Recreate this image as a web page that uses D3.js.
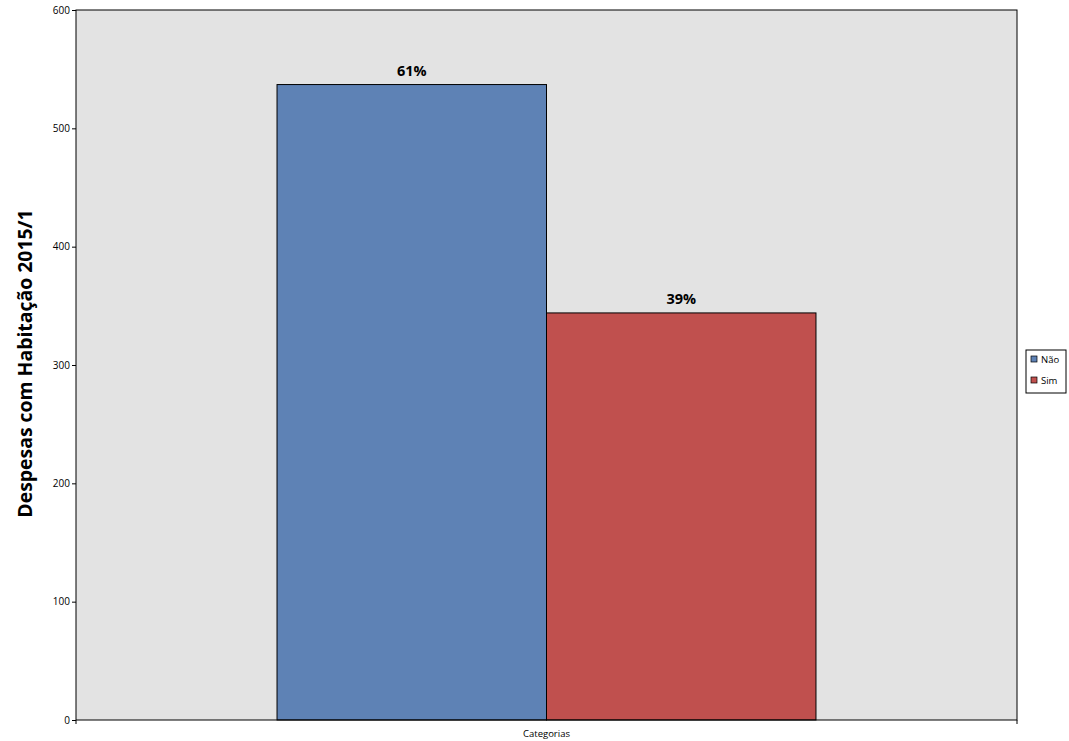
<!DOCTYPE html>
<html><head><meta charset="utf-8">
<script src="https://cdn.jsdelivr.net/npm/d3@7"></script>
<style>body{margin:0;background:#fff}svg{display:block}</style>
</head><body><svg id="c" width="1069" height="741"></svg>
<script>
const categories = ["Categorias"];
const seriesNames = ["Não", "Sim"];
const seriesValues = [537, 344];
const seriesLabels = ["61%", "39%"];
const seriesColors = ["#5e82b5", "#c0504e"];
const yTicks = [0, 100, 200, 300, 400, 500, 600];
const yTitle = "Despesas com Habitação 2015/1";

const svg = d3.select("#c");
const font = "'Open Sans', 'Noto Sans', sans-serif";
const m = {l: 76, t: 10, r: 1017, b: 720};

const y = d3.scaleLinear().domain([0, 600]).range([m.b, m.t]);
const x0 = d3.scaleBand().domain(categories).range([m.l, m.r]).paddingInner(0).paddingOuter(0.373);
const x1 = d3.scaleBand().domain(seriesNames).range([0, x0.bandwidth()]);

svg.append("rect").attr("x", m.l).attr("y", m.t).attr("width", m.r - m.l).attr("height", m.b - m.t)
  .attr("fill", "#e3e3e3");

const g = svg.append("g");
categories.forEach(c => {
  seriesNames.forEach((s, i) => {
    const v = seriesValues[i];
    g.append("rect")
      .attr("x", x0(c) + x1(s)).attr("y", y(v))
      .attr("width", x1.bandwidth()).attr("height", y(0) - y(v))
      .attr("fill", seriesColors[i]).attr("stroke", "#000").attr("stroke-width", 1);
    g.append("text")
      .attr("x", x0(c) + x1(s) + x1.bandwidth() / 2).attr("y", y(v) - 9)
      .attr("text-anchor", "middle").attr("font-family", font).attr("font-weight", "bold")
      .attr("font-size", 14.5).attr("fill", "#000").text(seriesLabels[i]);
  });
});

// frame
svg.append("rect").attr("x", m.l).attr("y", m.t).attr("width", m.r - m.l).attr("height", m.b - m.t)
  .attr("fill", "none").attr("stroke", "#000").attr("stroke-width", 1);

const yAxis = svg.append("g").attr("transform", `translate(${m.l},0)`)
  .call(d3.axisLeft(y).tickValues(yTicks).tickSize(4).tickPadding(2));
yAxis.select(".domain").remove();
yAxis.selectAll("text").attr("font-family", font).attr("font-size", 10).attr("fill", "#000");

const xAxis = svg.append("g").attr("transform", `translate(0,${m.b})`);
[m.l, m.r].forEach(px => xAxis.append("line").attr("x1", px).attr("x2", px).attr("y1", 0).attr("y2", 4).attr("stroke", "#000"));
categories.forEach(c => {
  xAxis.append("text").attr("x", x0(c) + x0.bandwidth() / 2).attr("y", 17)
    .attr("text-anchor", "middle").attr("font-family", font).attr("font-size", 9.5).attr("fill", "#000").text(c);
});

svg.append("text").attr("transform", `translate(32,${(m.t + m.b) / 2 - 1.5}) rotate(-90)`)
  .attr("text-anchor", "middle").attr("font-family", font).attr("font-weight", "bold")
  .attr("font-size", 19.4).attr("fill", "#000").text(yTitle);

// legend
const lg = svg.append("g").attr("transform", "translate(1026,350)");
lg.append("rect").attr("width", 40).attr("height", 43).attr("fill", "#fff").attr("stroke", "#000");
seriesNames.forEach((s, i) => {
  lg.append("rect").attr("x", 5).attr("y", 6 + i * 21).attr("width", 6).attr("height", 6)
    .attr("fill", seriesColors[i]).attr("stroke", "#000").attr("stroke-width", 0.7);
  lg.append("text").attr("x", 15).attr("y", 13 + i * 21).attr("font-family", font)
    .attr("font-size", 9.5).attr("fill", "#000").text(s);
});
</script></body></html>
